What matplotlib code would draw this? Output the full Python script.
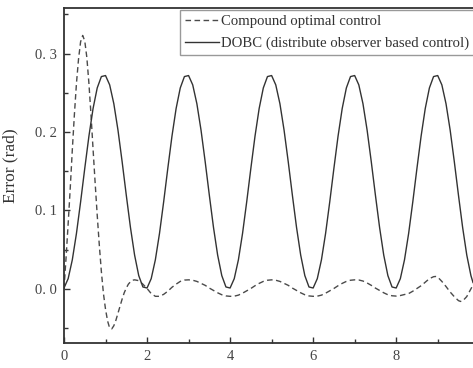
import matplotlib
matplotlib.use("Agg")
import matplotlib.pyplot as plt
from matplotlib.ticker import FixedLocator, FixedFormatter, MultipleLocator

plt.rcParams['font.family'] = ['Liberation Serif', 'DejaVu Serif']

# DOBC error (rad), sampled every 0.1 s
t_dobc = [round(0.1 * i, 2) for i in range(99)] + [9.85]
dobc = [
    0.0011, 0.0130, 0.0370, 0.0707, 0.1109, 0.1536, 0.1946, 0.2299, 0.2561, 0.2706,
    0.2719, 0.2600, 0.2360, 0.2023, 0.1621, 0.1194, 0.0784, 0.0431, 0.0169, 0.0024,
    0.0011, 0.0130, 0.0370, 0.0707, 0.1109, 0.1536, 0.1946, 0.2299, 0.2561, 0.2706,
    0.2719, 0.2600, 0.2360, 0.2023, 0.1621, 0.1194, 0.0784, 0.0431, 0.0169, 0.0024,
    0.0011, 0.0130, 0.0370, 0.0707, 0.1109, 0.1536, 0.1946, 0.2299, 0.2561, 0.2706,
    0.2719, 0.2600, 0.2360, 0.2023, 0.1621, 0.1194, 0.0784, 0.0431, 0.0169, 0.0024,
    0.0011, 0.0130, 0.0370, 0.0707, 0.1109, 0.1536, 0.1946, 0.2299, 0.2561, 0.2706,
    0.2719, 0.2600, 0.2360, 0.2023, 0.1621, 0.1194, 0.0784, 0.0431, 0.0169, 0.0024,
    0.0011, 0.0130, 0.0370, 0.0707, 0.1109, 0.1536, 0.1946, 0.2299, 0.2561, 0.2706,
    0.2719, 0.2600, 0.2360, 0.2023, 0.1621, 0.1194, 0.0784, 0.0431, 0.0169,
    0.0081,
]

# Compound optimal control error (rad)
t_comp = [
    0.00, 0.05, 0.10, 0.15, 0.20, 0.25, 0.30, 0.35, 0.40, 0.45,
    0.50, 0.55, 0.60, 0.65, 0.70, 0.75, 0.80, 0.85, 0.90, 0.95,
    1.00, 1.05, 1.10, 1.15, 1.20, 1.25, 1.30, 1.35, 1.40, 1.45,
    1.50, 1.55, 1.60, 1.65, 1.70, 1.75, 1.80, 1.90, 2.00, 2.10,
    2.20, 2.30, 2.40, 2.50, 2.60, 2.70, 2.80, 2.90, 3.00, 3.10,
    3.20, 3.30, 3.40, 3.50, 3.60, 3.70, 3.80, 3.90, 4.00, 4.10,
    4.20, 4.30, 4.40, 4.50, 4.60, 4.70, 4.80, 4.90, 5.00, 5.10,
    5.20, 5.30, 5.40, 5.50, 5.60, 5.70, 5.80, 5.90, 6.00, 6.10,
    6.20, 6.30, 6.40, 6.50, 6.60, 6.70, 6.80, 6.90, 7.00, 7.10,
    7.20, 7.30, 7.40, 7.50, 7.60, 7.70, 7.80, 7.90, 8.00, 8.10,
    8.20, 8.30, 8.40, 8.50, 8.60, 8.70, 8.80, 8.90, 8.95, 9.00,
    9.10, 9.20, 9.30, 9.40, 9.50, 9.55, 9.60, 9.70, 9.80, 9.85,
]
compound = [
    0.000, 0.040, 0.083, 0.128, 0.177, 0.222, 0.262, 0.293, 0.315, 0.323,
    0.316, 0.295, 0.262, 0.222, 0.178, 0.135, 0.094, 0.056, 0.022, -0.006,
    -0.026, -0.041, -0.050, -0.051, -0.047, -0.040, -0.031, -0.022, -0.013, -0.005,
    0.001, 0.006, 0.009, 0.011, 0.0115, 0.011, 0.0105, 0.006, 0.0005, -0.006,
    -0.0095, -0.0095, -0.007, -0.003, 0.002, 0.006, 0.0095, 0.0112, 0.0115, 0.011,
    0.0095, 0.007, 0.0045, 0.001, -0.002, -0.005, -0.0075, -0.009, -0.0095, -0.0093,
    -0.008, -0.0055, -0.0025, 0.0005, 0.004, 0.007, 0.0095, 0.011, 0.0115, 0.011,
    0.0095, 0.007, 0.0045, 0.001, -0.002, -0.005, -0.0075, -0.009, -0.0095, -0.0093,
    -0.008, -0.0055, -0.0025, 0.0005, 0.004, 0.007, 0.0095, 0.011, 0.0115, 0.0113,
    0.010, 0.0075, 0.0045, 0.001, -0.002, -0.005, -0.0075, -0.0088, -0.0092, -0.0085,
    -0.0072, -0.006, -0.003, 0.0005, 0.004, 0.0085, 0.013, 0.0155, 0.0158, 0.015,
    0.0095, 0.003, -0.004, -0.010, -0.015, -0.016, -0.0155, -0.0098, 0.000, 0.005,
]

xticks = [0, 2, 4, 6, 8]
xticklabels = ['0', '2', '4', '6', '8']
yticks = [0.0, 0.1, 0.2, 0.3]
yticklabels = ['0. 0', '0. 1', '0. 2', '0. 3']

fig = plt.figure(figsize=(4.73, 3.68), dpi=100)
ax = fig.add_axes([64 / 473, 25 / 368, 1 - 64 / 473, 335 / 368])

ax.plot(t_comp, compound, color='#4a4a4a', lw=1.0, ls=(0, (4, 2.5)),
        label='Compound optimal control')
ax.plot(t_dobc, dobc, color='#333333', lw=1.0, label='DOBC (distribute observer based control)')

ax.set_xlim(0, 9.85)
ax.set_ylim(-0.069, 0.358)

ax.xaxis.set_major_locator(FixedLocator(xticks))
ax.xaxis.set_major_formatter(FixedFormatter(xticklabels))
ax.xaxis.set_minor_locator(MultipleLocator(1))
ax.yaxis.set_major_locator(FixedLocator(yticks))
ax.yaxis.set_major_formatter(FixedFormatter(yticklabels))
ax.yaxis.set_minor_locator(MultipleLocator(0.05))

ax.tick_params(which='both', direction='in', top=False, right=False, colors='#333333',
               labelcolor='#444444', labelsize=10.5, width=1.0)
ax.tick_params(which='major', length=4)
ax.tick_params(which='minor', length=3)
ax.tick_params(axis='y', pad=5)
ax.tick_params(axis='x', pad=5)

for s in ['left', 'bottom', 'top']:
    ax.spines[s].set_linewidth(1.3)
    ax.spines[s].set_color('#333333')
ax.spines['right'].set_visible(False)

ax.set_ylabel('Error (rad)', fontsize=12.5, color='#333333')
ax.yaxis.set_label_coords(-0.112, 0.528)

leg = ax.legend(loc='upper left', bbox_to_anchor=(0.2836, 0.994), borderaxespad=0,
                fontsize=10.6, frameon=True, fancybox=False, framealpha=1,
                edgecolor='#999999', borderpad=0.35, handlelength=2.3,
                handletextpad=0.15, labelspacing=0.55)
leg.get_frame().set_linewidth(1.0)
for txt in leg.get_texts():
    txt.set_color('#333333')

fig.savefig('out.png', dpi=100)
